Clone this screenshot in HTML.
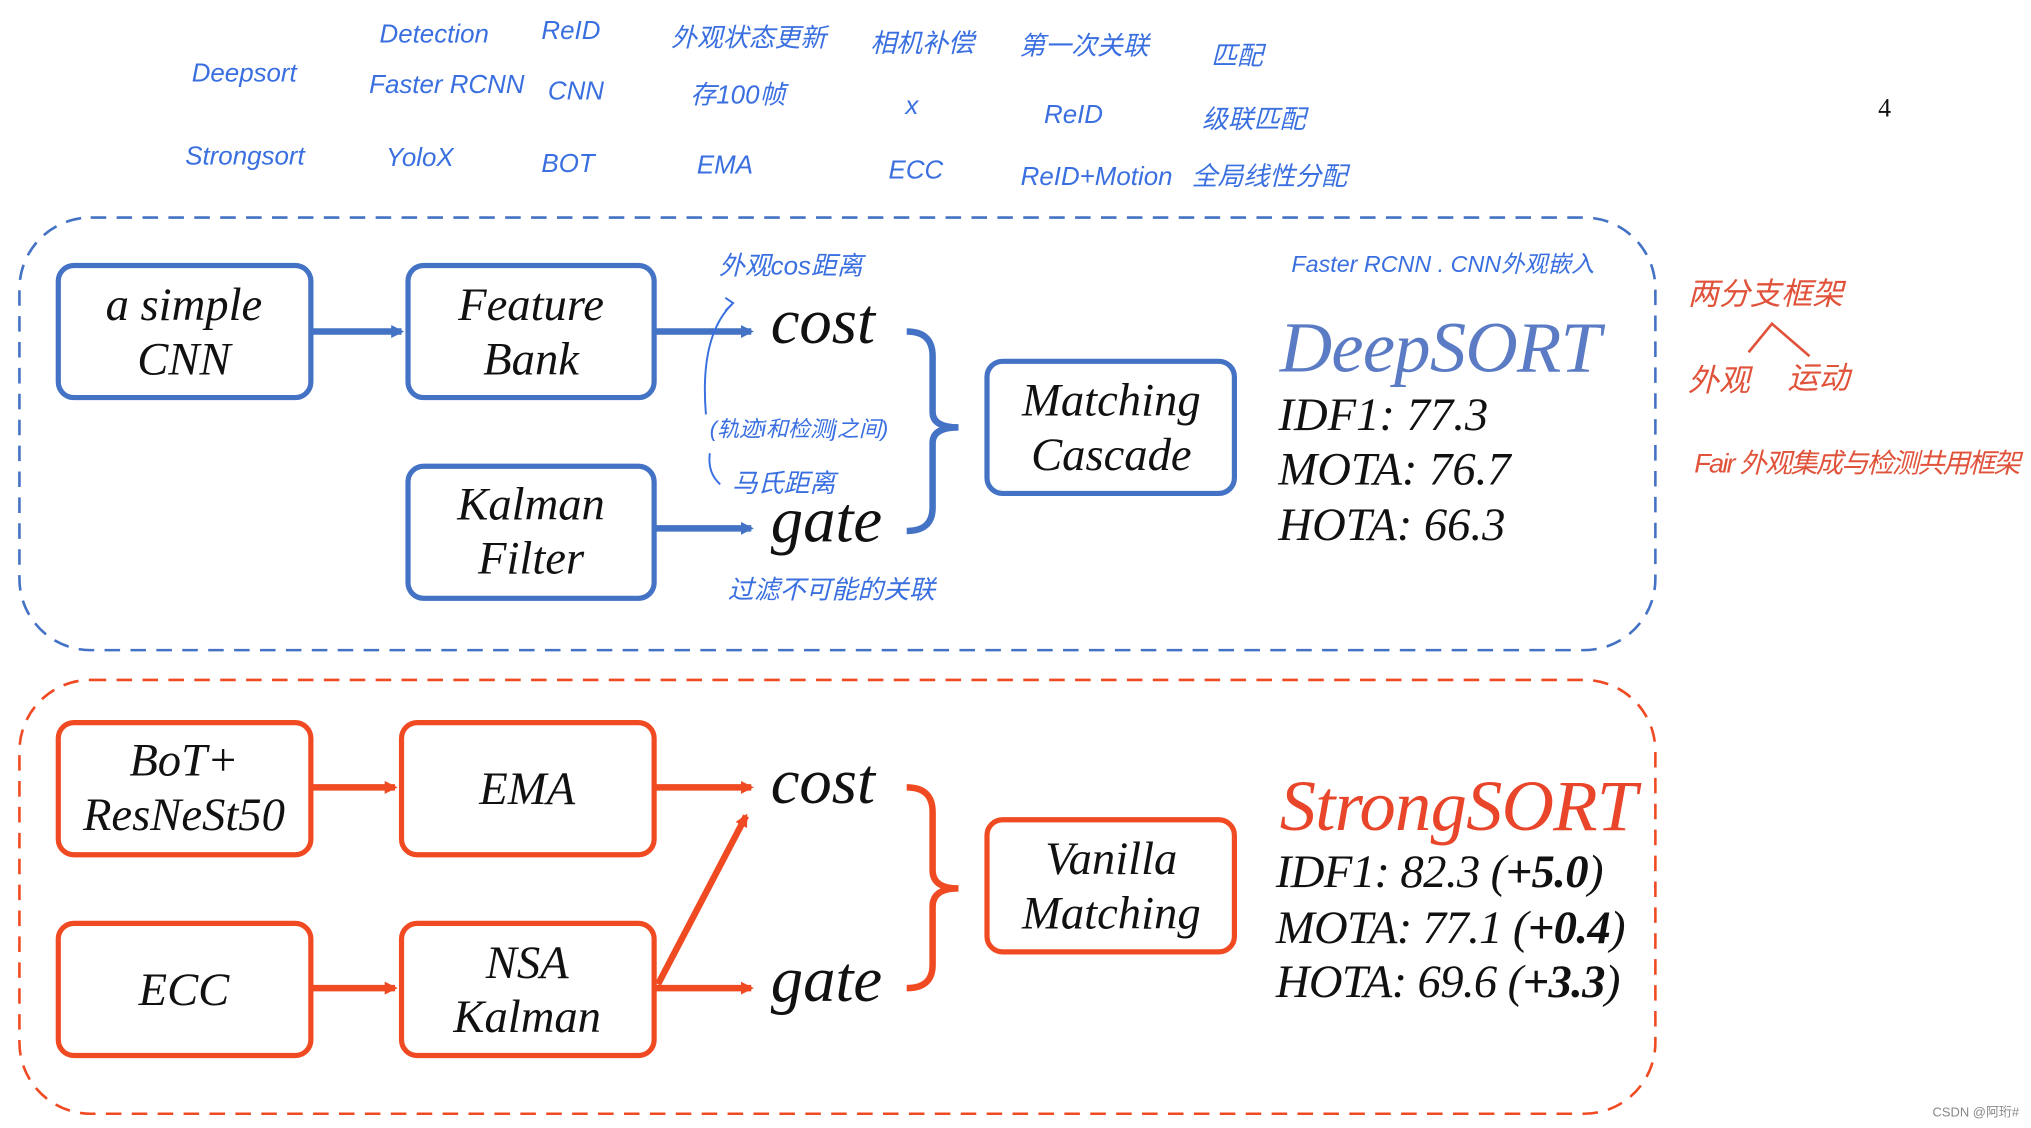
<!DOCTYPE html>
<html><head><meta charset="utf-8"><style>
html,body{margin:0;padding:0;background:#fff;width:2031px;height:1128px;overflow:hidden}
svg{display:block}
.b{fill:#fff;stroke:#4472c4;stroke-width:4}
.r{fill:#fff;stroke:#f04a23;stroke-width:4}
.t{font-family:"Liberation Serif",serif;font-style:italic;font-size:36px;fill:#111;text-anchor:middle}
.hw{font-family:"Liberation Sans","Noto Sans CJK SC",sans-serif;font-style:italic;fill:#3a6fe0;font-size:20px}
.hr{font-family:"Liberation Sans","Noto Sans CJK SC",sans-serif;font-style:italic;fill:#e0523a;font-size:24px}
.m{font-family:"Liberation Serif",serif;font-style:italic;font-size:36px;fill:#111}
</style></head><body>
<svg width="2031" height="1128" viewBox="0 0 1568 871" preserveAspectRatio="none">
<defs>
<marker id="ab" markerWidth="10" markerHeight="10" refX="8" refY="5" orient="auto" markerUnits="userSpaceOnUse"><path d="M0,0 L10,5 L0,10 Z" fill="#4472c4"/></marker>
<marker id="ar" markerWidth="10" markerHeight="10" refX="8" refY="5" orient="auto" markerUnits="userSpaceOnUse"><path d="M0,0 L10,5 L0,10 Z" fill="#f04a23"/></marker>
</defs>
<rect x="15" y="168" width="1263" height="334" rx="55" fill="none" stroke="#4472c4" stroke-width="2" stroke-dasharray="12,8"/>
<rect x="15" y="525" width="1263" height="335" rx="55" fill="none" stroke="#f04a23" stroke-width="2" stroke-dasharray="12,8"/>
<rect class="b" x="45" y="205" width="195" height="102" rx="12"/>
<text class="t" x="142" y="247">a simple</text><text class="t" x="142" y="289">CNN</text>
<rect class="b" x="315" y="205" width="190" height="102" rx="12"/>
<text class="t" x="410" y="247">Feature</text><text class="t" x="410" y="289">Bank</text>
<rect class="b" x="315" y="360" width="190" height="102" rx="12"/>
<text class="t" x="410" y="401">Kalman</text><text class="t" x="410" y="443">Filter</text>
<rect class="b" x="762" y="279" width="191" height="102" rx="12"/>
<text class="t" x="858" y="321">Matching</text><text class="t" x="858" y="363">Cascade</text>
<g stroke="#4472c4" stroke-width="5" fill="none">
<line x1="240" y1="256" x2="310" y2="256" marker-end="url(#ab)"/>
<line x1="505" y1="256" x2="580" y2="256" marker-end="url(#ab)"/>
<line x1="505" y1="408" x2="580" y2="408" marker-end="url(#ab)"/>
<path d="M700,256 Q720,256 720,275 L720,318 Q720,330 740,330 Q720,330 720,342 L720,392 Q720,410 700,410"/>
</g>
<text class="m" x="595" y="265" style="font-size:50px">cost</text>
<text class="m" x="595" y="418" style="font-size:50px">gate</text>
<text x="988" y="287" textLength="248" style="font-family:'Liberation Serif',serif;font-style:italic;font-size:56px;fill:#5b7cc4">DeepSORT</text>
<text class="m" x="987" y="332">IDF1: 77.3</text>
<text class="m" x="987" y="374">MOTA: 76.7</text>
<text class="m" x="987" y="417">HOTA: 66.3</text>
<rect class="r" x="45" y="558" width="195" height="102" rx="12"/>
<text class="t" x="142" y="599">BoT+</text><text class="t" x="142" y="641">ResNeSt50</text>
<rect class="r" x="310" y="558" width="195" height="102" rx="12"/>
<text class="t" x="407" y="621">EMA</text>
<rect class="r" x="45" y="713" width="195" height="102" rx="12"/>
<text class="t" x="142" y="776">ECC</text>
<rect class="r" x="310" y="713" width="195" height="102" rx="12"/>
<text class="t" x="407" y="755">NSA</text><text class="t" x="407" y="797">Kalman</text>
<rect class="r" x="762" y="633" width="191" height="102" rx="12"/>
<text class="t" x="858" y="675">Vanilla</text><text class="t" x="858" y="717">Matching</text>
<g stroke="#f04a23" stroke-width="5" fill="none">
<line x1="240" y1="608" x2="305" y2="608" marker-end="url(#ar)"/>
<line x1="240" y1="763" x2="305" y2="763" marker-end="url(#ar)"/>
<line x1="505" y1="608" x2="580" y2="608" marker-end="url(#ar)"/>
<line x1="505" y1="763" x2="580" y2="763" marker-end="url(#ar)"/>
<line x1="508" y1="760" x2="576" y2="630" marker-end="url(#ar)"/>
<path d="M700,608 Q720,608 720,627 L720,672 Q720,686 740,686 Q720,686 720,700 L720,745 Q720,763 700,763"/>
</g>
<text class="m" x="595" y="620" style="font-size:50px">cost</text>
<text class="m" x="595" y="773" style="font-size:50px">gate</text>
<text x="988" y="641" textLength="276" style="font-family:'Liberation Serif',serif;font-style:italic;font-size:56px;fill:#e8452a">StrongSORT</text>
<text class="m" x="985" y="685" textLength="253">IDF1: 82.3 (<tspan font-weight="bold">+5.0</tspan>)</text>
<text class="m" x="985" y="728" textLength="270">MOTA: 77.1 (<tspan font-weight="bold">+0.4</tspan>)</text>
<text class="m" x="985" y="770" textLength="266">HOTA: 69.6 (<tspan font-weight="bold">+3.3</tspan>)</text>
<text class="hw" x="148" y="63">Deepsort</text>
<text class="hw" x="143" y="127">Strongsort</text>
<text class="hw" x="293" y="33">Detection</text>
<text class="hw" x="285" y="72">Faster RCNN</text>
<text class="hw" x="298" y="128">YoloX</text>
<text class="hw" x="418" y="30">ReID</text>
<text class="hw" x="423" y="77">CNN</text>
<text class="hw" x="418" y="133">BOT</text>
<text class="hw" x="518" y="36">外观状态更新</text>
<text class="hw" x="533" y="80">存100帧</text>
<text class="hw" x="538" y="134">EMA</text>
<text class="hw" x="672" y="40">相机补偿</text>
<text class="hw" x="699" y="88">x</text>
<text class="hw" x="686" y="138">ECC</text>
<text class="hw" x="787" y="42">第一次关联</text>
<text class="hw" x="806" y="95">ReID</text>
<text class="hw" x="788" y="143">ReID+Motion</text>
<text class="hw" x="935" y="50">匹配</text>
<text class="hw" x="928" y="99">级联匹配</text>
<text class="hw" x="920" y="143">全局线性分配</text>
<text class="hw" x="555" y="212">外观cos距离</text>
<text class="hw" x="548" y="337" style="font-size:17px">(轨迹i和检测j之间)</text>
<text class="hw" x="565" y="380">马氏距离</text>
<text class="hw" x="562" y="462">过滤不可能的关联</text>
<text class="hw" x="997" y="210" style="font-size:18px">Faster RCNN . CNN外观嵌入</text>
<path d="M565,235 Q540,260 545,320" stroke="#3a6fe0" stroke-width="1.5" fill="none"/>
<path d="M560,230 L566,234 L560,240" stroke="#3a6fe0" stroke-width="1.5" fill="none"/>
<path d="M548,350 Q546,365 556,374" stroke="#3a6fe0" stroke-width="1.5" fill="none"/>
<text x="1450" y="90" style="font-family:'Liberation Serif',serif;font-size:20px;fill:#111">4</text>
<text class="hr" x="1303" y="235">两分支框架</text>
<path d="M1350,272 L1368,250 L1397,275" stroke="#e0523a" stroke-width="2" fill="none"/>
<text class="hr" x="1303" y="302">外观</text>
<text class="hr" x="1380" y="300">运动</text>
<text class="hr" x="1308" y="365" textLength="252" style="font-size:21px">Fair 外观集成与检测共用框架</text>
<text x="1492" y="862" style="font-family:'Liberation Sans','Noto Sans CJK SC',sans-serif;font-size:10px;fill:#888">CSDN @阿珩#</text>
</svg>
</body></html>
